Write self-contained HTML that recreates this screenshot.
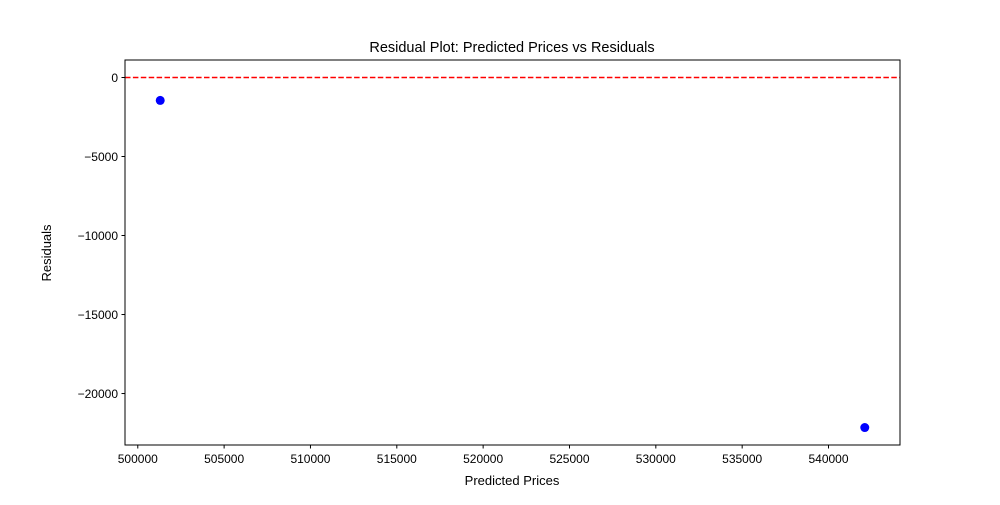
<!DOCTYPE html>
<html><head><meta charset="utf-8"><style>
body{margin:0;background:#fff;}
svg text{font-family:"Liberation Sans","DejaVu Sans",sans-serif;fill:#000;}
</style></head><body>
<svg id="chart" width="1000" height="500" viewBox="0 0 1000 500">
<rect x="0" y="0" width="1000" height="500" fill="#fff"/>
<text x="512" y="52" font-size="14.5" text-anchor="middle">Residual Plot: Predicted Prices vs Residuals</text>
<g id="xt"></g>
<g id="yt"></g>
<g id="marks"></g>
<rect x="125" y="60" width="775" height="385" fill="none" stroke="#000" stroke-width="1"/>
<text x="512" y="485" font-size="13" text-anchor="middle">Predicted Prices</text>
<text x="0" y="0" font-size="13" text-anchor="middle" transform="translate(51,253) rotate(-90)">Residuals</text>
</svg>
<script>
const predicted = [501300, 542100];
const residuals = [-1450, -22150];
const xTicks = [500000, 505000, 510000, 515000, 520000, 525000, 530000, 535000, 540000];
const yTicks = [0, -5000, -10000, -15000, -20000];
const zeroLine = [0];

const L=125,R=900,T=60,B=445;
const xMin=499260,xMax=544140,yMin=-23257,yMax=1107;
const sx=v=>L+(v-xMin)/(xMax-xMin)*(R-L);
const sy=v=>B-(v-yMin)/(yMax-yMin)*(B-T);
const NS='http://www.w3.org/2000/svg';
function mk(tag,attrs,parent){const e=document.createElementNS(NS,tag);for(const k in attrs)e.setAttribute(k,attrs[k]);parent.appendChild(e);return e;}
const xt=document.getElementById('xt'),yt=document.getElementById('yt'),marks=document.getElementById('marks');
xTicks.forEach(v=>{
  const x=sx(v);
  const l=mk('line',{x1:x,x2:x,y1:B,y2:B+3.5,stroke:'#000'},xt);
  
  
  const t=mk('text',{x:x,y:B+18,'font-size':12,'text-anchor':'middle'},xt);
  t.textContent=String(v);
  
  
});
yTicks.forEach(v=>{
  const y=sy(v);
  const l=mk('line',{x1:L-3.5,x2:L,y1:y,y2:y,stroke:'#000'},yt);
  
  
  const t=mk('text',{x:L-7,y:y+4.5,'font-size':12,'text-anchor':'end'},yt);
  t.textContent=(v<0?'\u2212'+Math.abs(v):String(v));
  
  
});
zeroLine.forEach(v=>{
  const l=mk('line',{x1:L,x2:R,y1:sy(v),y2:sy(v),stroke:'red','stroke-width':1.5,'stroke-dasharray':'5.5,2.4'},marks);
  
  
});
predicted.forEach((p,i)=>{
  const c=mk('circle',{cx:sx(p),cy:sy(residuals[i]),r:4.5,fill:'blue'},marks);
  
  
});
</script>
</body></html>
